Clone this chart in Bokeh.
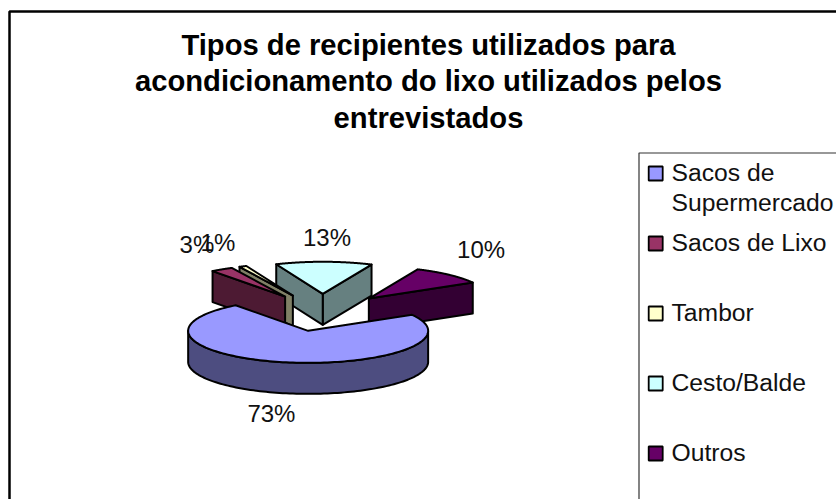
import numpy as np
from bokeh.embed import file_html
from bokeh.resources import INLINE
from bokeh.models import ColumnDataSource
from bokeh.core.properties import value
from bokeh.plotting import figure

title_lines = ["Tipos de recipientes utilizados para",
               "acondicionamento do lixo utilizados pelos",
               "entrevistados"]
categories = ["Sacos de Supermercado", "Sacos de Lixo", "Tambor", "Cesto/Balde", "Outros"]
legend_lines = [["Sacos de", "Supermercado"], ["Sacos de Lixo"], ["Tambor"], ["Cesto/Balde"], ["Outros"]]
values = [73, 3, 1, 13, 10]
top_colors = ["#9999FF", "#993366", "#FFFFCC", "#CCFFFF", "#660066"]
side_colors = ["#4D4D80", "#4D1A33", "#808066", "#668080", "#330033"]

# layout of the projected pie
CX, CY = 321.5, 312.0
R, K, DEPTH, EXPLODE = 120.0, 0.267, 31.0, 70.0
START = 30.0
DRAW_ORDER = [3, 4, 2, 1, 0]
LABEL_OFFSETS = [(-13, 20), (-25, -25), (-25, -24), (3, -24), (32, -25)]
TITLE_Y = [44, 80.5, 117]
FONT = value("Liberation Sans")

p = figure(width=836, height=499, x_range=(0, 836), y_range=(499, 0),
           toolbar_location=None, output_backend="svg", min_border=0)
p.axis.visible = False
p.grid.visible = False
p.outline_line_color = None
p.background_fill_color = "white"

# chart frame
p.line([9, 9, 836], [499, 11, 11], line_color="black", line_width=2.5)

# slice geometry, from the values
spans = np.array(values, dtype=float) / sum(values) * 360
hi = START - np.concatenate(([0], np.cumsum(spans)[:-1]))
lo = hi - spans
mid = (hi + lo) / 2


def pt(tip, ang, rad=R):
    a = np.radians(ang)
    return tip[0] + rad * np.cos(a), tip[1] - K * rad * np.sin(a)


tips = [pt((CX, CY), m, EXPLODE) for m in mid]

for i in DRAW_ORDER:
    tip = tips[i]
    walls = []
    # flat cut faces that look towards the viewer
    for ang, normal in ((lo[i], lo[i] - 90), (hi[i], hi[i] + 90)):
        if np.sin(np.radians(normal)) < 0:
            ex, ey = pt(tip, ang)
            walls.append(([tip[0], ex, ex, tip[0]], [tip[1], ey, ey + DEPTH, tip[1] + DEPTH]))
    # outer rim
    arc = np.linspace(lo[i], hi[i], 160)
    front = arc[np.sin(np.radians(arc)) < 0]
    if len(front) > 1:
        ax, ay = pt(tip, front)
        walls.append((list(ax) + list(ax[::-1]), list(ay) + list(ay[::-1] + DEPTH)))
    for wx, wy in walls:
        p.patch(wx, wy, fill_color=side_colors[i], line_color="black", line_width=2, line_join="round")
    ax, ay = pt(tip, arc)
    p.patch([tip[0]] + list(ax), [tip[1]] + list(ay), fill_color=top_colors[i],
            line_color="black", line_width=2, line_join="round")

# value labels
lx, ly, lt = [], [], []
for i, v in enumerate(values):
    ax, ay = pt(tips[i], mid[i])
    if np.sin(np.radians(mid[i])) < 0:
        ay += DEPTH
    lx.append(ax + LABEL_OFFSETS[i][0])
    ly.append(ay + LABEL_OFFSETS[i][1])
    lt.append(f"{v}%")
p.text(x="x", y="y", text="t", source=ColumnDataSource(dict(x=lx, y=ly, t=lt)),
       text_font=FONT, text_font_size="24px", text_color="#111111",
       text_align="center", text_baseline="middle")

# title
p.text(x=[428] * 3, y=TITLE_Y, text=title_lines, text_font=FONT, text_font_size="29.2px",
       text_font_style="bold", text_color="black", text_align="center", text_baseline="middle")

# legend
p.line([638.5, 638.5, 836], [499, 152.5, 152.5], line_color="#333333", line_width=1.2)
sw_y = [173 + 70 * i for i in range(len(categories))]
p.rect(x=[655.2] * 5, y=sw_y, width=14, height=14, fill_color=top_colors,
       line_color="black", line_width=1.8)
tx, ty, tt = [], [], []
for yy, lines in zip(sw_y, legend_lines):
    for j, line in enumerate(lines):
        tx.append(671)
        ty.append(yy - 1 + 30 * j)
        tt.append(line)
p.text(x="x", y="y", text="t", source=ColumnDataSource(dict(x=tx, y=ty, t=tt)),
       text_font=FONT, text_font_size="24.7px", text_color="#111111",
       text_align="left", text_baseline="middle")

open("out.html", "w").write(file_html(p, INLINE))
